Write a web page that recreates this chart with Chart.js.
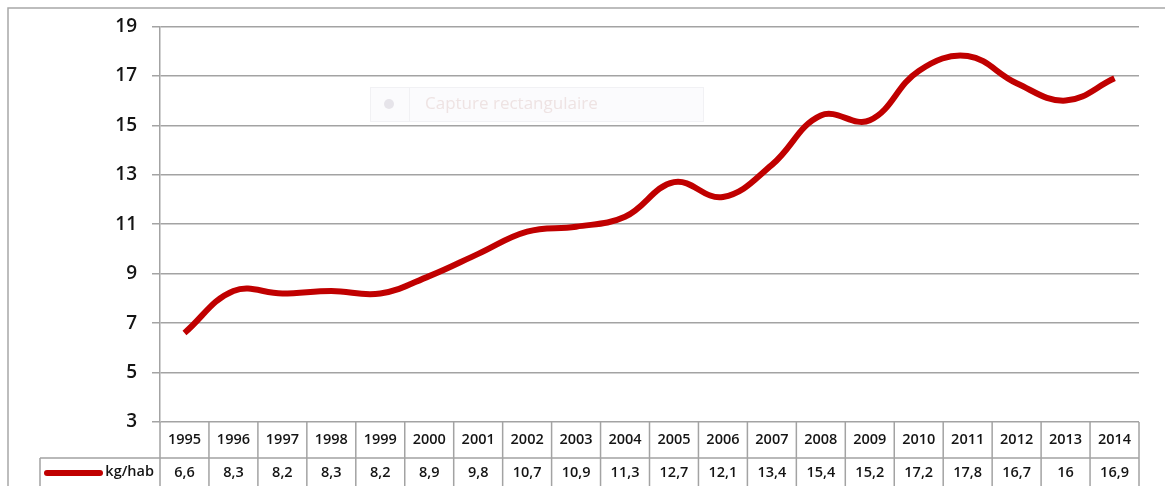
<!DOCTYPE html>
<html>
<head>
<meta charset="utf-8">
<script src="https://cdn.jsdelivr.net/npm/chart.js@4"></script>
<style>
    html, body { margin: 0; padding: 0; background: #ffffff; }
    #wrap { width: 1165px; height: 486px; }
</style>
</head>
<body>
<div id="wrap"><canvas id="kg-chart" width="1165" height="486"></canvas></div>
<script>
const years = ['1995', '1996', '1997', '1998', '1999', '2000', '2001', '2002', '2003', '2004',
    '2005', '2006', '2007', '2008', '2009', '2010', '2011', '2012', '2013', '2014'];
const kgHab = [6.6, 8.3, 8.2, 8.3, 8.2, 8.9, 9.8, 10.7, 10.9, 11.3,
    12.7, 12.1, 13.4, 15.4, 15.2, 17.2, 17.8, 16.7, 16, 16.9];
const seriesLabel = 'kg/hab';
const yMin = 3;
const yMax = 19;
const yStep = 2;

const lineColor = '#c00000';
const gridColor = '#a3a3a3';
const textColor = '#141414';
const fontFamily = '"Open Sans", Lato, sans-serif';

const fmt = v => String(v).replace('.', ',');

// frame around the whole picture + faint screenshot tooltip left in the original
const framePlugin = {
    id: 'frame',
    beforeDraw(chart) {
        const ctx = chart.ctx;
        ctx.save();
        ctx.strokeStyle = '#a8a8a8';
        ctx.lineWidth = 1.5;
        ctx.beginPath();
        ctx.moveTo(8, chart.height);
        ctx.lineTo(8, 8);
        ctx.lineTo(chart.width, 8);
        ctx.stroke();

        // "Capture rectangulaire" ghost box
        ctx.fillStyle = '#fbfbfd';
        ctx.fillRect(370, 87, 333, 34);
        ctx.strokeStyle = '#f1f1f4';
        ctx.lineWidth = 1;
        ctx.strokeRect(370.5, 87.5, 333, 34);
        ctx.beginPath();
        ctx.moveTo(409.5, 88);
        ctx.lineTo(409.5, 121);
        ctx.stroke();
        ctx.fillStyle = '#e6e4ea';
        ctx.beginPath();
        ctx.arc(389, 104, 5, 0, Math.PI * 2);
        ctx.fill();
        ctx.fillStyle = '#eee3e3';
        ctx.font = '17px ' + fontFamily;
        ctx.textBaseline = 'middle';
        ctx.fillText('Capture rectangulaire', 425, 104);
        ctx.restore();
    }
};

// data table under the plot, aligned on the category scale
const tablePlugin = {
    id: 'dataTable',
    afterDraw(chart) {
        const ctx = chart.ctx;
        const xs = chart.scales.x;
        const area = chart.chartArea;
        const colW = (area.right - area.left) / years.length;
        const top = area.bottom;
        const mid = top + 36;
        const bottom = chart.height;
        const legendLeft = 40;

        ctx.save();
        ctx.strokeStyle = gridColor;
        ctx.lineWidth = 1.5;
        ctx.beginPath();
        ctx.moveTo(legendLeft, mid);
        ctx.lineTo(area.right, mid);
        ctx.moveTo(legendLeft, mid);
        ctx.lineTo(legendLeft, bottom);
        for (let i = 0; i <= years.length; i++) {
            const x = area.left + i * colW;
            ctx.moveTo(x, top);
            ctx.lineTo(x, bottom);
        }
        ctx.stroke();

        ctx.fillStyle = textColor;
        ctx.font = '600 14.5px ' + fontFamily;
        ctx.textAlign = 'center';
        ctx.textBaseline = 'middle';
        years.forEach((y, i) => {
            const x = xs.getPixelForValue(i);
            ctx.fillText(y, x, top + 18);
            ctx.fillText(fmt(kgHab[i]), x, mid + 15);
        });

        // legend key
        ctx.strokeStyle = lineColor;
        ctx.lineWidth = 6;
        ctx.lineCap = 'round';
        ctx.beginPath();
        ctx.moveTo(47, mid + 15);
        ctx.lineTo(100, mid + 15);
        ctx.stroke();
        ctx.textAlign = 'right';
        ctx.fillText(seriesLabel, 154, mid + 14);
        ctx.restore();
    }
};

new Chart(document.getElementById('kg-chart').getContext('2d'), {
    type: 'line',
    data: {
        labels: years,
        datasets: [{
            label: seriesLabel,
            data: kgHab,
            borderColor: lineColor,
            borderWidth: 6,
            tension: 0.4,
            pointRadius: 0,
            fill: false
        }]
    },
    options: {
        responsive: false,
        animation: false,
        layout: {
            padding: { top: 25, right: 26, bottom: 64, left: 0 }
        },
        scales: {
            x: {
                type: 'category',
                display: false,
                offset: true
            },
            y: {
                min: yMin,
                max: yMax,
                afterFit: scale => { scale.width = 160; },
                ticks: {
                    stepSize: yStep,
                    padding: 15,
                    color: textColor,
                    font: { family: fontFamily, size: 19, weight: '600' }
                },
                grid: {
                    color: gridColor,
                    lineWidth: 1.5,
                    tickLength: 8
                },
                border: { color: gridColor, width: 1.5 }
            }
        },
        plugins: {
            legend: { display: false },
            tooltip: { enabled: false }
        }
    },
    plugins: [framePlugin, tablePlugin]
});
</script>
</body>
</html>
